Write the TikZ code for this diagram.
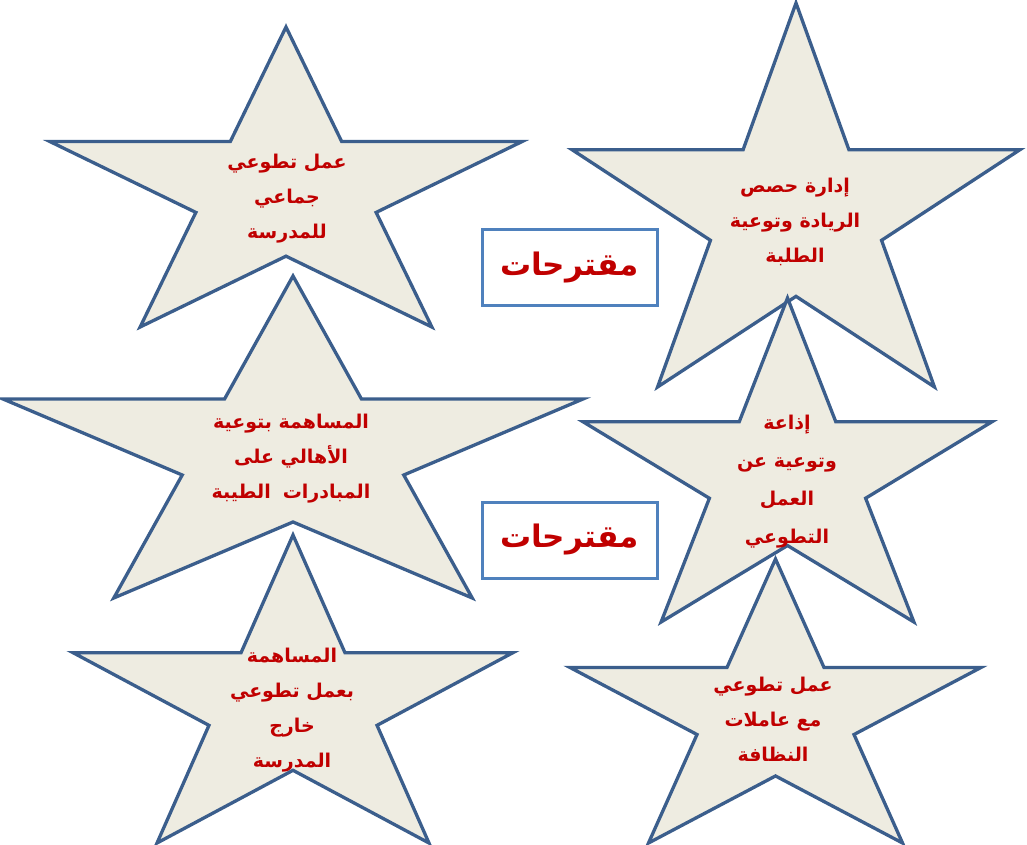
\documentclass[tikz,border=0pt]{standalone}
\usepackage{fontspec}
\newfontfamily\arabicfont[Script=Arabic]{DejaVu Sans}
\TeXXeTstate=1
\definecolor{starfill}{HTML}{EEECE1}
\definecolor{starline}{HTML}{3B5E8C}
\definecolor{boxline}{HTML}{4F81BD}
\definecolor{txtred}{HTML}{C00000}
\newcommand\ar[1]{\beginR #1\endR}
\newcommand\mystar[4]{% x0 y0 w h
  \begin{scope}[shift={(#1,#2)}, xscale=#3, yscale=#4]
    \draw[starsty] (0.5,0) -- (0.61803,0.38197) -- (1,0.38197) -- (0.69098,0.61803)
      -- (0.80902,1) -- (0.5,0.76393) -- (0.19098,1) -- (0.30902,0.61803)
      -- (0,0.38197) -- (0.38197,0.38197) -- cycle;
  \end{scope}}
\tikzset{
  starsty/.style={draw=starline, fill=starfill, line width=3.3pt, line join=miter},
  startext/.style={text=txtred, align=center, font=\arabicfont\bfseries\fontsize{19}{35}\selectfont, inner sep=0pt},
  titlebox/.style={draw=boxline, fill=white, line width=3pt, minimum width=175pt, minimum height=76pt, inner sep=0pt,
     text=txtred, font=\arabicfont\bfseries\fontsize{31}{36}\selectfont}
}
\begin{document}
\begin{tikzpicture}[x=1pt, y=-1pt]
\useasboundingbox (0,0) rectangle (1027,845);
% stars
\mystar{50}{27}{472}{300}
\mystar{572}{3}{448}{384}
\mystar{3}{276}{580}{322}
\mystar{583}{298}{409}{324}
\mystar{73}{535}{440}{308}
\mystar{570}{559}{411}{284}
% texts
\node[startext] (s1) at (287,199) {\ar{عمل تطوعي}\\\ar{جماعي}\\\ar{للمدرسة}};
\node[startext] (s2) at (795,222) {\ar{إدارة حصص}\\\ar{الريادة وتوعية}\\\ar{الطلبة}};
\node[startext] (s3) at (291,459) {\ar{المساهمة بتوعية}\\\ar{الأهالي على}\\\ar{المبادرات\hspace{12pt}الطيبة}};
\node[startext, font=\arabicfont\bfseries\fontsize{19}{38}\selectfont] (s4) at (787,482) {\ar{إذاعة}\\\ar{وتوعية عن}\\\ar{العمل}\\\ar{التطوعي}};
\node[startext] (s5) at (292,710) {\ar{المساهمة}\\\ar{بعمل تطوعي}\\\ar{خارج}\\\ar{المدرسة}};
\node[startext] (s6) at (773,719) {\ar{عمل تطوعي}\\\ar{مع عاملات}\\\ar{النظافة}};
% boxes
\node[titlebox] (b1) at (569.5,267.5) {\ar{مقترحات}};
\node[titlebox] (b2) at (569.5,540) {\ar{مقترحات}};
\end{tikzpicture}
\end{document}
